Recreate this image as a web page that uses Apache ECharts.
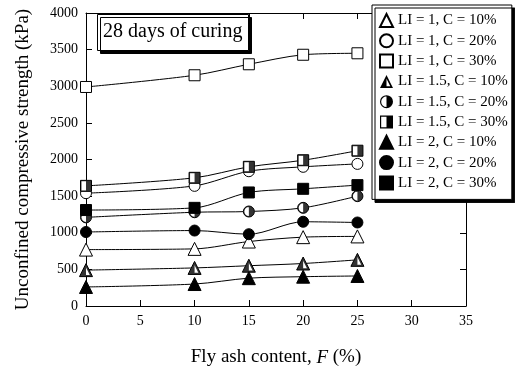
<!DOCTYPE html>
<html>
<head>
<meta charset="utf-8">
<script src="https://cdn.jsdelivr.net/npm/echarts@6/dist/echarts.min.js"></script>
<style>
  html, body { margin: 0; padding: 0; background: #fff; }
  #chart { width: 515px; height: 372px; }
</style>
</head>
<body>
<div id="chart"></div>
<script>
// fly ash content (%)
const flyAsh = [0, 10, 15, 20, 25]
// unconfined compressive strength (kPa), 28 days
const li1c10 = [770, 780, 880, 940, 950]
const li1c20 = [1540, 1640, 1840, 1900, 1940]
const li1c30 = [2990, 3150, 3300, 3430, 3450]
const li15c10 = [490, 520, 550, 580, 630]
const li15c20 = [1210, 1280, 1290, 1340, 1500]
const li15c30 = [1640, 1750, 1900, 1990, 2120]
const li2c10 = [260, 300, 380, 400, 410]
const li2c20 = [1010, 1030, 980, 1150, 1140]
const li2c30 = [1310, 1340, 1550, 1600, 1650]
const xTicks = [0, 5, 10, 15, 20, 25, 30, 35]
const yTicks = [0, 500, 1000, 1500, 2000, 2500, 3000, 3500, 4000]

const FONT = 'Liberation Serif'

// half filled symbols: outline ring + half fill (nonzero winding)
const halfTriangle = 'path://M10 0L20 20L0 20Z M10 5.8L4.2 17.4L15.8 17.4Z M10 0L10 20L0 20Z'
const halfCircle = 'path://M10 0A10 10 0 1 1 10 20A10 10 0 1 1 10 0Z M10 1.8A8.2 8.2 0 1 0 10 18.2A8.2 8.2 0 1 0 10 1.8Z M10 0A10 10 0 0 1 10 20Z'
const halfSquare = 'path://M0 0L20 0L20 20L0 20Z M1.8 1.8L1.8 18.2L18.2 18.2L18.2 1.8Z M10 0L20 0L20 20L10 20Z'

function pts(vals) {
  return flyAsh.map((f, i) => [f, vals[i]])
}

const open = { color: '#fff', borderColor: '#000', borderWidth: 1 }
const filled = { color: '#000', borderColor: '#000', borderWidth: 1 }

const defs = [
  { name: 'LI = 1, C = 10%', data: li1c10, symbol: 'triangle', size: 13, style: open },
  { name: 'LI = 1, C = 20%', data: li1c20, symbol: 'circle', size: 11, style: open },
  { name: 'LI = 1, C = 30%', data: li1c30, symbol: 'rect', size: 11, style: open },
  { name: 'LI = 1.5, C = 10%', data: li15c10, symbol: 'triangle', size: 13, style: open, half: halfTriangle },
  { name: 'LI = 1.5, C = 20%', data: li15c20, symbol: 'circle', size: 11, style: open, half: halfCircle },
  { name: 'LI = 1.5, C = 30%', data: li15c30, symbol: 'rect', size: 11, style: open, half: halfSquare },
  { name: 'LI = 2, C = 10%', data: li2c10, symbol: 'triangle', size: 13, style: filled },
  { name: 'LI = 2, C = 20%', data: li2c20, symbol: 'circle', size: 11, style: filled },
  { name: 'LI = 2, C = 30%', data: li2c30, symbol: 'rect', size: 11, style: filled }
]

let series = []
let legendData = []
defs.forEach(d => {
  series.push({
    name: d.name,
    type: 'line',
    data: pts(d.data),
    smooth: 0.3,
    clip: false,
    symbol: d.symbol,
    symbolSize: d.size,
    showAllSymbol: true,
    itemStyle: d.style,
    lineStyle: { color: '#000', width: 1 },
    emphasis: { disabled: true }
  })
  if (d.half) {
    // black half on top of the white marker
    series.push({
      name: d.name + ' half',
      type: 'scatter',
      z: 5,
      data: pts(d.data),
      symbol: d.half,
      symbolSize: d.size,
      silent: true,
      itemStyle: { color: '#000', borderWidth: 0 }
    })
    legendData.push({ name: d.name, icon: d.half, itemStyle: { color: '#000', borderWidth: 0 } })
  } else {
    legendData.push({ name: d.name, icon: d.symbol })
  }
})

function axisBase() {
  return {
    type: 'value',
    axisLine: { show: true, onZero: false, lineStyle: { color: '#000', width: 1 } },
    axisTick: { show: true, inside: true, length: 6, lineStyle: { color: '#000' } },
    splitLine: { show: false }
  }
}

let chart = echarts.init(document.getElementById('chart'))
chart.setOption({
  animation: false,
  backgroundColor: '#fff',
  title: {
    text: '28 days of curing',
    left: 97,
    top: 14,
    padding: [8, 6, 9, 6],
    backgroundColor: '#fff',
    borderColor: '#000',
    borderWidth: 1,
    shadowColor: '#000',
    shadowBlur: 0,
    shadowOffsetX: 3,
    shadowOffsetY: 3,
    textStyle: { fontFamily: FONT, fontSize: 20, fontWeight: 'normal', color: '#000' }
  },
  legend: {
    data: legendData,
    orient: 'vertical',
    left: 372,
    top: 5,
    padding: [8, 4, 9, 7],
    itemGap: 5.3,
    itemWidth: 13,
    itemHeight: 13,
    backgroundColor: '#fff',
    borderColor: '#000',
    borderWidth: 1,
    shadowColor: '#000',
    shadowBlur: 0,
    shadowOffsetX: 3,
    shadowOffsetY: 3,
    selectedMode: false,
    textStyle: { fontFamily: FONT, fontSize: 15, color: '#000' }
  },
  grid: { left: 86, right: 49, top: 13, bottom: 65 },
  xAxis: [
    Object.assign(axisBase(), {
      min: xTicks[0],
      max: xTicks[xTicks.length - 1],
      interval: 5,
      name: 'Fly ash content, {i|F} (%)',
      nameLocation: 'middle',
      nameGap: 42,
      nameTextStyle: {
        fontFamily: FONT, fontSize: 19, color: '#000',
        rich: { i: { fontFamily: FONT, fontSize: 19, fontStyle: 'italic', color: '#000' } }
      },
      axisLabel: { fontFamily: FONT, fontSize: 14, color: '#000', margin: 8 }
    }),
    Object.assign(axisBase(), {
      position: 'top',
      min: xTicks[0],
      max: xTicks[xTicks.length - 1],
      interval: 5,
      axisLabel: { show: false }
    })
  ],
  yAxis: [
    Object.assign(axisBase(), {
      min: yTicks[0],
      max: yTicks[yTicks.length - 1],
      interval: 500,
      name: 'Unconfined compressive strength (kPa)',
      nameLocation: 'middle',
      nameGap: 53,
      nameTextStyle: { fontFamily: FONT, fontSize: 19, color: '#000' },
      axisLabel: { fontFamily: FONT, fontSize: 14, color: '#000', margin: 8, formatter: v => String(v) }
    }),
    Object.assign(axisBase(), {
      position: 'right',
      min: yTicks[0],
      max: yTicks[yTicks.length - 1],
      interval: 500,
      axisLabel: { show: false }
    })
  ],
  series: series
})
</script>
</body>
</html>
